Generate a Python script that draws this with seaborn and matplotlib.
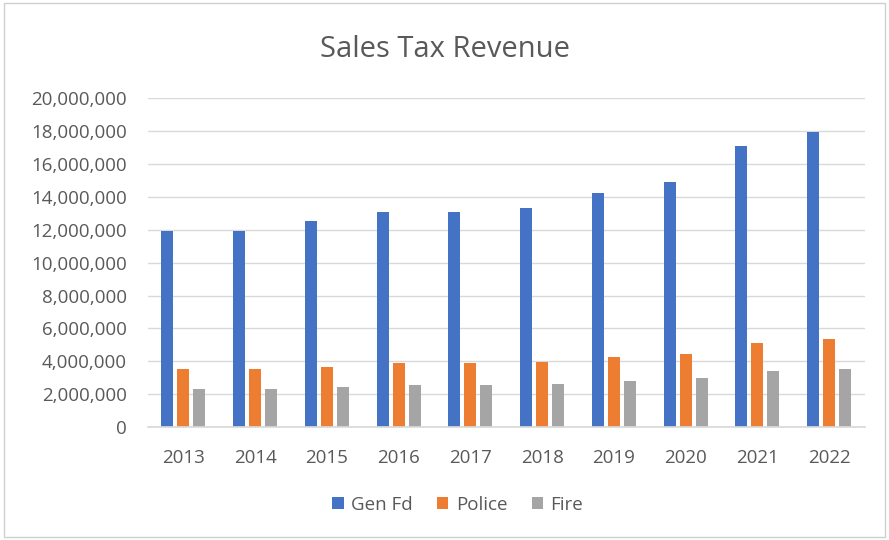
import matplotlib
matplotlib.use("Agg")
import matplotlib.pyplot as plt
import matplotlib.ticker as mticker
from matplotlib.patches import Rectangle
import seaborn as sns
import pandas as pd

years = ["2013", "2014", "2015", "2016", "2017", "2018", "2019", "2020", "2021", "2022"]
gen_fd = [11900000, 11950000, 12550000, 13080000, 13080000, 13300000, 14230000, 14920000, 17100000, 17940000]
police = [3540000, 3540000, 3680000, 3910000, 3910000, 3990000, 4270000, 4470000, 5120000, 5340000]
fire = [2330000, 2330000, 2450000, 2590000, 2590000, 2630000, 2790000, 2960000, 3400000, 3540000]
series_names = ["Gen Fd", "Police", "Fire"]
colors = ["#4472C4", "#ED7D31", "#A5A5A5"]

df = pd.DataFrame({
    "Year": years * 3,
    "Series": [series_names[0]] * 10 + [series_names[1]] * 10 + [series_names[2]] * 10,
    "Value": gen_fd + police + fire,
})

sns.set_theme(style="white")
plt.rcParams["font.family"] = ["Open Sans", "DejaVu Sans"]

fig = plt.figure(figsize=(8.89, 5.4), dpi=100)
ax = fig.add_axes([0.166, 0.209, 0.807, 0.609])

sns.barplot(data=df, x="Year", y="Value", hue="Series", palette=colors,
            width=0.67, gap=0.25, ax=ax, saturation=1, legend=True, linewidth=0)

ax.set_ylim(0, 20000000)
ax.set_yticks(range(0, 20000001, 2000000))
ax.yaxis.set_major_formatter(mticker.FuncFormatter(lambda v, p: f"{int(v):,}"))
ax.grid(axis="y", color="#D9D9D9", linewidth=1)
ax.set_axisbelow(True)
for s in ["top", "right", "left"]:
    ax.spines[s].set_visible(False)
ax.spines["bottom"].set_color("#D9D9D9")
ax.tick_params(axis="both", length=0, labelsize=13.5, colors="#595959")
ax.tick_params(axis="y", pad=15)
ax.tick_params(axis="x", pad=16)
ax.set_xlabel("")
ax.set_ylabel("")
ax.set_xlim(-0.5, 9.5)

fig.text(0.5, 0.908, "Sales Tax Revenue", ha="center", va="center", fontsize=21, color="#595959")

handles, labels = ax.get_legend_handles_labels()
ax.legend_.remove()
fig.legend(handles, labels, loc="center", bbox_to_anchor=(0.515, 0.065), ncol=3, frameon=False,
           fontsize=13.5, labelcolor="#595959", handlelength=0.6, handleheight=0.6,
           columnspacing=1.3, handletextpad=0.4)

fig.patches.append(Rectangle((0.005, 0.005), 0.99, 0.99, transform=fig.transFigure,
                             fill=False, edgecolor="#D0D0D0", linewidth=1))

fig.savefig("out.png", dpi=100)
